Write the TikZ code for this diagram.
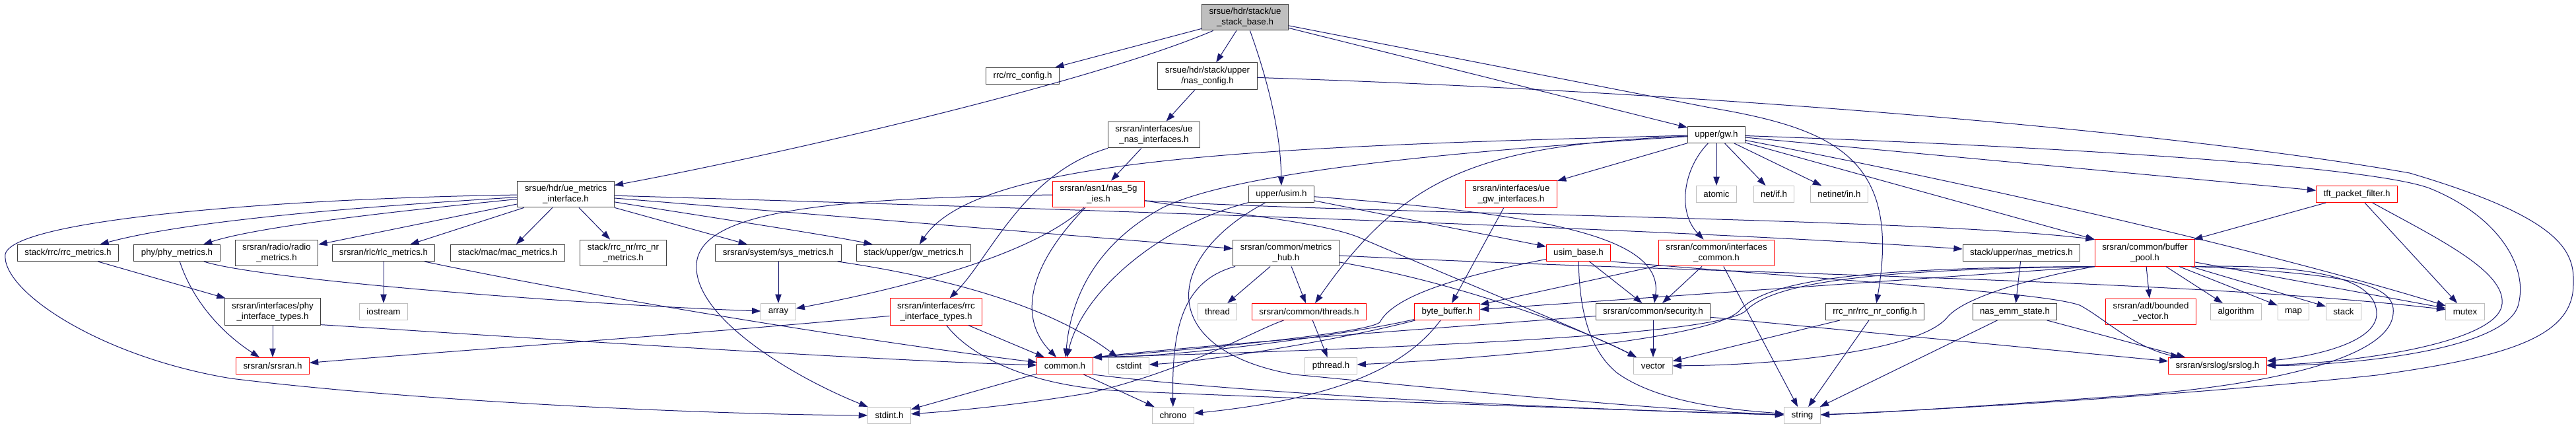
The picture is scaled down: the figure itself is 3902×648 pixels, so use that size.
\documentclass[tikz,border=0pt]{standalone}
\usepackage{fontspec}
\setmainfont{Liberation Sans}
\usetikzlibrary{arrows.meta}
\definecolor{edgeblue}{RGB}{25,25,112}
\begin{document}
\begin{tikzpicture}[x=0.75pt, y=-0.75pt, >={Stealth[length=10pt,width=7pt,inset=0pt]},
  box/.style={rectangle, font=\fontsize{10}{11.5}\selectfont, align=center, inner xsep=8.2pt, inner ysep=4.6pt, minimum height=18.75pt, line width=0.75pt, fill=white},
  file/.style={box, draw=black!75},
  root/.style={box, draw=black!75, fill=black!25},
  trunc/.style={box, draw=red},
  sys/.style={box, draw=black!25},
  dep/.style={->, draw=edgeblue, line width=0.75pt}]
\useasboundingbox (0,0) rectangle (3902,648);
\fill[white] (0,0) rectangle (3902,648);

\node[root] (base) at (1886,26) {srsue/hdr/stack/ue\\\_stack\_base.h};
\node[file] (rrccfg) at (1549,115) {rrc/rrc\_config.h};
\node[file] (nascfg) at (1829,115) {srsue/hdr/stack/upper\\/nas\_config.h};
\node[file] (uenas) at (1748,204) {srsran/interfaces/ue\\\_nas\_interfaces.h};
\node[file] (gw) at (2600,204) {upper/gw.h};

\node[file] (uem) at (857,294) {srsue/hdr/ue\_metrics\\\_interface.h};
\node[trunc] (nas5g) at (1664,294) {srsran/asn1/nas\_5g\\\_ies.h};
\node[file] (usim) at (1941,294) {upper/usim.h};
\node[trunc] (uegw) at (2289,294) {srsran/interfaces/ue\\\_gw\_interfaces.h};
\node[sys] (atomic) at (2600,294) {atomic};
\node[sys] (netif) at (2687,294) {net/if.h};
\node[sys] (netin) at (2786,294) {netinet/in.h};
\node[trunc] (tft) at (3570,294) {tft\_packet\_filter.h};

\node[file] (rrcm) at (103,383) {stack/rrc/rrc\_metrics.h};
\node[file] (phym) at (268,383) {phy/phy\_metrics.h};
\node[file] (radiom) at (419,383) {srsran/radio/radio\\\_metrics.h};
\node[file] (rlcm) at (581,383) {srsran/rlc/rlc\_metrics.h};
\node[file] (macm) at (769,383) {stack/mac/mac\_metrics.h};
\node[file] (rrcnrm) at (944,383) {stack/rrc\_nr/rrc\_nr\\\_metrics.h};
\node[file] (sysm) at (1179,383) {srsran/system/sys\_metrics.h};
\node[file] (gwm) at (1384,383) {stack/upper/gw\_metrics.h};
\node[file] (mhub) at (1948,383) {srsran/common/metrics\\\_hub.h};
\node[trunc] (usimb) at (2391,383) {usim\_base.h};
\node[trunc] (ifcom) at (2600,383) {srsran/common/interfaces\\\_common.h};
\node[file] (nasm) at (3062,383) {stack/upper/nas\_metrics.h};
\node[trunc] (bpool) at (3249,383) {srsran/common/buffer\\\_pool.h};

\node[file] (phyif) at (413,472) {srsran/interfaces/phy\\\_interface\_types.h};
\node[sys] (iostream) at (581,472) {iostream};
\node[sys] (array) at (1179,472) {array};
\node[trunc] (rrcif) at (1418,472) {srsran/interfaces/rrc\\\_interface\_types.h};
\node[sys] (thread) at (1844,472) {thread};
\node[trunc] (threads) at (1983,472) {srsran/common/threads.h};
\node[trunc] (bbuf) at (2192,472) {byte\_buffer.h};
\node[file] (sec) at (2504,472) {srsran/common/security.h};
\node[file] (rrcnrcfg) at (2840,472) {rrc\_nr/rrc\_nr\_config.h};
\node[file] (emm) at (3052,472) {nas\_emm\_state.h};
\node[trunc] (bvec) at (3258,472) {srsran/adt/bounded\\\_vector.h};
\node[sys] (algo) at (3387,472) {algorithm};
\node[sys] (map) at (3474,472) {map};
\node[sys] (stk) at (3550,472) {stack};
\node[sys] (mutex) at (3734,472) {mutex};

\node[trunc] (srsran) at (413,554) {srsran/srsran.h};
\node[trunc] (common) at (1613,554) {common.h};
\node[sys] (cstdint) at (1710,554) {cstdint};
\node[sys] (pthread) at (2016,554) {pthread.h};
\node[sys] (vector) at (2504,554) {vector};
\node[trunc] (srslog) at (3359,554) {srsran/srslog/srslog.h};

\node[sys] (stdint) at (1347,629) {stdint.h};
\node[sys] (chrono) at (1777,629) {chrono};
\node[sys] (string) at (2730,629) {string};

\draw[dep] (base) -- (rrccfg);
\draw[dep] (base) .. controls (1640,130) and (1150,240) .. (uem);
\draw[dep] (base) -- (nascfg);
\draw[dep] (base) .. controls (1920,120) and (1940,200) .. (usim);
\draw[dep] (base) -- (gw);
\draw[dep] (base) -- (2590,163) .. controls (2780,195) and (2880,240) .. (rrcnrcfg);

\draw[dep] (nascfg) -- (uenas);
\draw[dep] (nascfg) .. controls (2600,140) and (3300,200) .. (3650,262) .. controls (3880,330) and (3900,380) .. (3898,430) .. controls (3898,510) and (3800,540) .. (3600,568) .. controls (3300,600) and (2900,622) .. (string);

\draw[dep] (uenas) -- (nas5g);
\draw[dep] (uenas) .. controls (1550,262) and (1500,390) .. (rrcif);

\draw[dep] (nas5g) .. controls (1250,300) and (1060,320) .. (1055,400) .. controls (1050,480) and (1200,570) .. (stdint);
\draw[dep] (nas5g) .. controls (1560,390) and (1350,440) .. (array);
\draw[dep] (nas5g) .. controls (1560,400) and (1540,480) .. (common);
\draw[dep] (nas5g.-8) .. controls (2100,325) and (2900,330) .. (bpool.north west);
\draw[dep] (nas5g.-8) .. controls (1850,322) and (2000,335) .. (2060,360) .. controls (2200,420) and (2420,510) .. (vector);

\draw[dep] (usim) -- (usimb);
\draw[dep] (usim) .. controls (2350,325) and (2520,360) .. (sec);
\draw[dep] (usim) .. controls (1760,340) and (1640,440) .. (common);
\draw[dep] (usim) .. controls (1760,390) and (1750,530) .. (1960,567) .. controls (2200,590) and (2500,620) .. (string);

\draw[dep] (gw) .. controls (1900,222) and (1480,240) .. (gwm);
\draw[dep] (gw) .. controls (2100,235) and (1850,270) .. (1760,315) .. controls (1660,370) and (1622,450) .. (common);
\draw[dep] (gw) .. controls (2250,220) and (2130,260) .. (threads);
\draw[dep] (gw) -- (uegw);
\draw[dep] (gw) .. controls (2550,255) and (2540,320) .. (ifcom);
\draw[dep] (gw) -- (atomic);
\draw[dep] (gw) -- (netif);
\draw[dep] (gw) -- (netin);
\draw[dep] (gw) .. controls (3200,225) and (3600,255) .. (3680,285) .. controls (3780,325) and (3830,400) .. (3815,460) .. controls (3800,530) and (3560,553) .. (srslog);
\draw[dep] (gw) -- (tft);
\draw[dep] (gw) -- (bpool.north west);
\draw[dep] (gw) .. controls (3100,300) and (3500,400) .. (mutex);

\draw[dep] (uegw) -- (bbuf);

\draw[dep] (tft) -- (bpool);
\draw[dep] (tft) -- (mutex);
\draw[dep] (tft) .. controls (3690,360) and (3795,410) .. (3790,460) .. controls (3785,520) and (3560,550) .. (srslog);

\draw[dep] (uem) .. controls (450,300) and (20,330) .. (8,385) .. controls (2,440) and (150,540) .. (350,573) .. controls (650,610) and (1100,628) .. (stdint);
\draw[dep] (uem) .. controls (600,310) and (300,330) .. (rrcm);
\draw[dep] (uem) .. controls (650,315) and (400,340) .. (phym);
\draw[dep] (uem) -- (radiom);
\draw[dep] (uem) -- (rlcm);
\draw[dep] (uem) -- (macm);
\draw[dep] (uem) -- (rrcnrm);
\draw[dep] (uem) -- (sysm);
\draw[dep] (uem) .. controls (1050,325) and (1250,355) .. (gwm);
\draw[dep] (uem) -- (mhub);
\draw[dep] (uem) .. controls (1600,316) and (2500,345) .. (nasm);

\draw[dep] (rrcm) -- (phyif);
\draw[dep] (phym) .. controls (290,450) and (330,500) .. (srsran);
\draw[dep] (phym) .. controls (400,425) and (900,462) .. (array);
\draw[dep] (rlcm) -- (iostream);
\draw[dep] (rlcm) .. controls (900,450) and (1300,515) .. (common);
\draw[dep] (sysm) -- (array);
\draw[dep] (sysm) .. controls (1400,415) and (1580,455) .. (cstdint);

\draw[dep] (mhub) -- (threads);
\draw[dep] (mhub) -- (thread);
\draw[dep] (mhub) .. controls (1790,425) and (1775,500) .. (chrono);
\draw[dep] (mhub) .. controls (2220,430) and (2400,500) .. (vector);
\draw[dep] (mhub) .. controls (2600,415) and (3300,422) .. (mutex);

\draw[dep] (usimb) -- (sec);
\draw[dep] (usimb) .. controls (2392,450) and (2400,525) .. (2450,565) .. controls (2520,615) and (2650,622) .. (string);
\draw[dep] (usimb) .. controls (2200,420) and (2110,450) .. (2090,488) .. controls (2070,505) and (1800,530) .. (common.north east);
\draw[dep] (usimb.south east) .. controls (2900,433) and (3100,445) .. (3150,462) .. controls (3185,480) and (3230,525) .. (srslog);

\draw[dep] (ifcom) -- (bbuf);
\draw[dep] (ifcom) -- (sec);
\draw[dep] (ifcom) -- (string);

\draw[dep] (nasm) -- (emm);

\draw[dep] (bpool) -- (bvec);
\draw[dep] (bpool) -- (algo);
\draw[dep] (bpool) -- (map);
\draw[dep] (bpool) -- (stk);
\draw[dep] (bpool) -- (mutex);
\draw[dep] (bpool.south east) .. controls (3500,400) and (3600,420) .. (3600,475) .. controls (3600,520) and (3500,540) .. (srslog);
\draw[dep] (bpool.south east) .. controls (3560,415) and (3630,430) .. (3625,475) .. controls (3620,540) and (3450,580) .. (3250,597) .. controls (3000,615) and (2850,625) .. (string);
\draw[dep] (bpool.south west) -- (bbuf);
\draw[dep] (bpool.south west) .. controls (2850,405) and (2680,420) .. (2635,470) .. controls (2600,510) and (2300,540) .. (pthread);
\draw[dep] (bpool.south west) .. controls (3080,420) and (2975,450) .. (2950,480) .. controls (2910,530) and (2700,553) .. (vector);
\draw[dep] (bpool.south west) .. controls (2850,408) and (2690,425) .. (2645,470) .. controls (2610,505) and (2200,525) .. (common.north east);

\draw[dep] (phyif) -- (srsran);
\draw[dep] (phyif.-15) .. controls (700,505) and (1300,545) .. (common);
\draw[dep] (rrcif) .. controls (1000,510) and (700,530) .. (srsran);
\draw[dep] (rrcif) -- (common);
\draw[dep] (rrcif) .. controls (1470,540) and (1560,585) .. (1700,592) .. controls (2000,605) and (2500,622) .. (string);

\draw[dep] (threads) -- (pthread);
\draw[dep] (threads) .. controls (1900,500) and (1800,560) .. (1650,595) .. controls (1550,612) and (1450,622) .. (stdint);

\draw[dep] (bbuf) .. controls (2050,505) and (1800,540) .. (common.north east);
\draw[dep] (bbuf) .. controls (2050,510) and (1850,545) .. (cstdint);
\draw[dep] (bbuf) .. controls (2140,540) and (2060,600) .. (chrono);

\draw[dep] (sec) -- (vector);
\draw[dep] (sec) .. controls (2200,495) and (1850,520) .. (common.north east);
\draw[dep] (sec) -- (srslog);

\draw[dep] (rrcnrcfg) -- (string);
\draw[dep] (rrcnrcfg) -- (vector);
\draw[dep] (emm) -- (string);
\draw[dep] (emm) -- (srslog);

\draw[dep] (common) -- (stdint);
\draw[dep] (common) -- (chrono);
\draw[dep] (common.south east) .. controls (1900,598) and (2400,620) .. (string);
\end{tikzpicture}
\end{document}
